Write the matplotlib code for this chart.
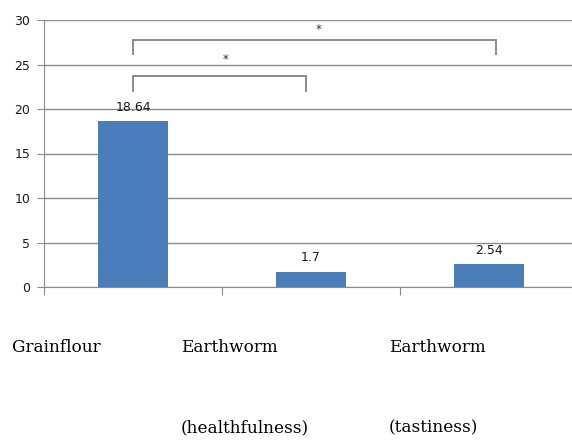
import matplotlib.pyplot as plt

# data
categories = ["Grainflour", "Earthworm (healthfulness)", "Earthworm (tastiness)"]
values = [18.64, 1.7, 2.54]
value_labels = ["18.64", "1.7", "2.54"]
y_ticks = [0, 5, 10, 15, 20, 25, 30]

# significance brackets: (from bar, to bar, bar height, leg bottom, star x, star y)
brackets = [(0.0, 0.97, 23.7, 22.0, 0.52, 25.6), (0.0, 2.04, 27.75, 26.2, 1.04, 28.9)]

# category captions as in the source figure (two lines, second far below)
caption_line1 = ["Grainflour", "Earthworm", "Earthworm"]
caption_line2 = ["", "(healthfulness)", "(tastiness)"]
caption_x = [12, 181, 389]

W, H = 572, 441
fig = plt.figure(figsize=(W / 100, H / 100), dpi=100)
ax = fig.add_axes([44 / W, (H - 287) / H, 534 / W, 267 / H])

bar_color = "#4A7EBB"
grid_color = "#8C8C8C"

x = list(range(len(values)))
ax.bar(x, values, width=0.395, color=bar_color, zorder=3)

for xi, v, lab in zip(x, values, value_labels):
    ax.text(xi, v + 0.85, lab, ha="center", va="bottom", fontsize=9, color="#1a1a1a")

for x0, x1, top, leg, sx, sy in brackets:
    ax.plot([x0, x0, x1, x1], [leg, top, top, leg], color="#8A8A8A", lw=1.4,
            solid_joinstyle="miter", zorder=4)
    ax.text(sx, sy, "*", ha="center", va="center", fontsize=8.5, color="#333333")

ax.set_xlim(-0.5, 2.5)
ax.set_ylim(0, 30)
ax.set_yticks(y_ticks)
ax.yaxis.grid(True, color=grid_color, lw=1.0, zorder=0)
ax.set_xticks([-0.5, 0.5, 1.5])
ax.set_xticklabels([])
ax.tick_params(axis="x", length=6, color=grid_color, direction="out")
ax.tick_params(axis="y", length=5, color=grid_color, labelsize=9, pad=5, labelcolor="#1a1a1a")

for side in ["top", "right"]:
    ax.spines[side].set_visible(False)
ax.spines["left"].set_color(grid_color)
ax.spines["bottom"].set_color(grid_color)

for cx, l1, l2 in zip(caption_x, caption_line1, caption_line2):
    fig.text(cx / W, 1 - 348 / H, l1, ha="left", va="center", family="DejaVu Serif", fontsize=12.2)
    if l2:
        fig.text(cx / W, 1 - 428 / H, l2, ha="left", va="center", family="DejaVu Serif", fontsize=12.2)

fig.savefig("out.png", dpi=100)
